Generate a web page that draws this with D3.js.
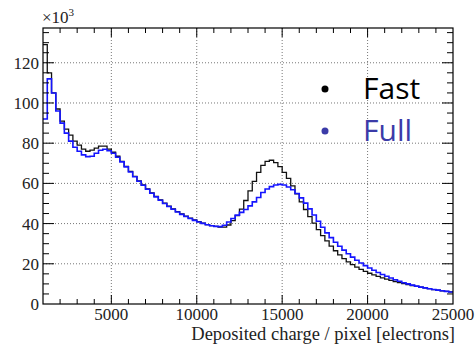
<!DOCTYPE html>
<html>
<head>
<meta charset="utf-8">
<script src="https://cdn.jsdelivr.net/npm/d3@7"></script>
<style>
  body { margin: 0; background: #fff; }
  svg { display: block; }
</style>
</head>
<body>
<div id="chart"></div>
<script>
// bins of 250 electrons from 1000 to 25000, counts in units of 10^3
var binWidth = 250;
var binLow = d3.range(1000, 25000, binWidth);

var fastCounts = [
  129, 115, 105, 97, 91, 87, 84, 81, 79, 77, 76, 76.5, 77.5, 78.5, 78.5, 77,
  75.5, 73.5, 71, 68.5, 66, 63.5, 61.3, 59.3, 57.3, 55.3, 53.5, 51.8, 50.2, 48.7, 47.3, 46,
  44.8, 43.7, 42.7, 41.8, 41, 40.2, 39.5, 39,
  38.6, 38.3, 38.2, 39.3, 41.5, 44, 47.2, 51.5, 56.3, 61, 65.5, 69, 71, 71.5, 70.3, 68.3,
  65.5, 62.5, 58.8, 54.8, 50.8, 47, 43.5, 40.2, 37, 34, 31.4, 28.8, 26.5, 24.4, 22.6, 21,
  19.6, 18.3, 17.2, 16.2, 15.3, 14.5, 13.7, 13, 12.4, 11.8, 11.2, 10.7, 10.2, 9.7, 9.2, 8.8,
  8.4, 8, 7.6, 7.2, 6.9, 6.6, 6.3, 6
];

var fullCounts = [
  92, 112, 105, 96, 90, 85, 81, 78, 76, 74.2, 73.3, 73.5, 75, 76.5, 77, 76.2,
  75, 73, 70.7, 68.2, 65.7, 63.3, 61.1, 59.1, 57.1, 55.1, 53.3, 51.6, 50, 48.5, 47.1, 45.8,
  44.6, 43.5, 42.5, 41.6, 40.8, 40.1, 39.4, 38.9,
  38.6, 38.5, 39.2, 40.8, 42.5, 44.2, 45.6, 47, 48.8, 50.8, 53, 55.5, 57.2, 58.4, 59.2, 59.5,
  59.2, 58.2, 56.8, 55, 52.8, 50.2, 47.3, 44.3, 41.2, 38.2, 35.4, 33, 30.7, 28.7, 26.8, 25,
  23.3, 21.8, 20.4, 19.1, 17.9, 16.8, 15.7, 14.7, 13.8, 12.9, 12.1, 11.3, 10.6, 10, 9.4, 8.9,
  8.4, 8, 7.6, 7.2, 6.9, 6.6, 6.3, 6
];

var xTicks = [5000, 10000, 15000, 20000, 25000];
var yTicks = [0, 20, 40, 60, 80, 100, 120];
var legendNames = ["Fast", "Full"];

var W = 476, H = 344;
var margin = {top: 28, right: 23, bottom: 40, left: 43},
    width = W - margin.left - margin.right,
    height = H - margin.top - margin.bottom;

var svg = d3.select("#chart").append("svg")
    .attr("width", W).attr("height", H);
var g = svg.append("g")
    .attr("transform", "translate(" + margin.left + "," + margin.top + ")");

var x = d3.scaleLinear().domain([1000, 25000]).range([0, width]);
var y = d3.scaleLinear().domain([0, 137.3]).range([height, 0]);

// dotted grid
g.selectAll(".gx").data(xTicks.slice(0, -1)).enter().append("line")
    .attr("x1", d => x(d)).attr("x2", d => x(d))
    .attr("y1", 0).attr("y2", height)
    .attr("stroke", "#777").attr("stroke-dasharray", "1,2");
g.selectAll(".gy").data(yTicks.slice(1)).enter().append("line")
    .attr("x1", 0).attr("x2", width)
    .attr("y1", d => y(d)).attr("y2", d => y(d))
    .attr("stroke", "#777").attr("stroke-dasharray", "1,2");

// histograms as step lines
g.append("clipPath").attr("id", "clip").append("rect")
    .attr("width", width).attr("height", height);

function stepPoints(counts) {
  var pts = counts.map((v, i) => [binLow[i], v]);
  pts.push([binLow[binLow.length - 1] + binWidth, counts[counts.length - 1]]);
  return pts;
}
var line = d3.line()
    .x(d => x(d[0])).y(d => y(d[1]))
    .curve(d3.curveStepAfter);

g.append("path").datum(stepPoints(fastCounts))
    .attr("clip-path", "url(#clip)")
    .attr("d", line).attr("fill", "none")
    .attr("stroke", "#111").attr("stroke-width", 1.3);
g.append("path").datum(stepPoints(fullCounts))
    .attr("clip-path", "url(#clip)")
    .attr("d", line).attr("fill", "none")
    .attr("stroke", "#1515ff").attr("stroke-width", 1.6);

// axes, ticks on all four sides pointing inward
var xMinor = d3.range(2000, 25000, 1000);
var yMinor = d3.range(5, 137, 5);

g.selectAll(".xt").data(xMinor).enter().append("line")
    .attr("x1", d => x(d)).attr("x2", d => x(d))
    .attr("y1", height).attr("y2", d => height - (d % 5000 === 0 ? 9 : 5))
    .attr("stroke", "#000");
g.selectAll(".xtt").data(xMinor).enter().append("line")
    .attr("x1", d => x(d)).attr("x2", d => x(d))
    .attr("y1", 0).attr("y2", d => (d % 5000 === 0 ? 9 : 5))
    .attr("stroke", "#000");
g.selectAll(".yt").data(yMinor).enter().append("line")
    .attr("x1", 0).attr("x2", d => (d % 20 === 0 ? 11 : 6))
    .attr("y1", d => y(d)).attr("y2", d => y(d))
    .attr("stroke", "#000");
g.selectAll(".ytr").data(yMinor).enter().append("line")
    .attr("x1", width).attr("x2", d => width - (d % 20 === 0 ? 11 : 6))
    .attr("y1", d => y(d)).attr("y2", d => y(d))
    .attr("stroke", "#000");

g.append("rect").attr("width", width).attr("height", height)
    .attr("fill", "none").attr("stroke", "#000").attr("stroke-width", 1.2);

var serif = "Liberation Serif, Times New Roman, DejaVu Serif, serif";

g.selectAll(".xl").data(xTicks).enter().append("text")
    .attr("x", d => x(d)).attr("y", height + 16)
    .attr("text-anchor", "middle")
    .attr("font-family", serif).attr("font-size", 17).attr("fill", "#222")
    .text(d => d);
g.selectAll(".yl").data(yTicks).enter().append("text")
    .attr("x", -4).attr("y", d => y(d) + 6)
    .attr("text-anchor", "end")
    .attr("font-family", serif).attr("font-size", 17).attr("fill", "#222")
    .text(d => d);

var mult = g.append("text").attr("x", -1).attr("y", -5)
    .attr("font-family", serif).attr("font-size", 17).attr("fill", "#222");
mult.append("tspan").text("\u00d710");
mult.append("tspan").attr("dy", -7).attr("font-size", 11).text("3");

svg.append("text")
    .attr("x", margin.left + width + 2).attr("y", H - 4)
    .attr("text-anchor", "end")
    .attr("font-family", serif).attr("font-size", 18.5).attr("fill", "#222")
    .text("Deposited charge / pixel [electrons]");

// legend
var legColors = ["#000", "#3b3ba8"];
var leg = g.selectAll(".leg").data(legendNames).enter().append("g")
    .attr("transform", (d, i) => "translate(282," + (61 + i * 42) + ")");
leg.append("circle").attr("r", 3.5).attr("fill", (d, i) => legColors[i]);
leg.append("text").attr("x", 38).attr("y", 10)
    .attr("font-family", "Open Sans, Noto Sans, sans-serif")
    .attr("font-size", 30)
    .attr("fill", (d, i) => legColors[i])
    .text(d => d);
</script>
</body>
</html>
